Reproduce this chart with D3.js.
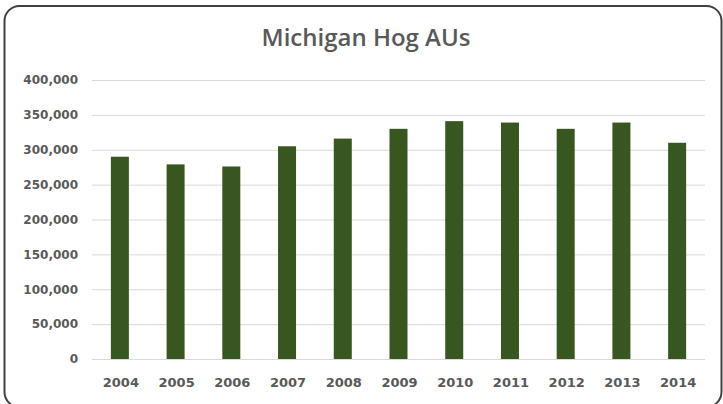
<!DOCTYPE html>
<html>
<head>
<meta charset="utf-8">
<title>Michigan Hog AUs</title>
<script src="https://cdn.jsdelivr.net/npm/d3@7/dist/d3.min.js"></script>
<style>
    html, body { margin: 0; padding: 0; background: #ffffff; }
    svg { display: block; }
</style>
</head>
<body>
<div id="chart"></div>
<script>
var years = ['2004', '2005', '2006', '2007', '2008', '2009', '2010', '2011', '2012', '2013', '2014'];
var hogAUs = [290000, 279000, 276000, 305000, 316000, 330000, 341000, 339000, 330000, 339000, 310000];
var yTicks = [0, 50000, 100000, 150000, 200000, 250000, 300000, 350000, 400000];

(function() {
    'use strict';

    var options = {
        width: 723,
        height: 404,
        margin: { top: 80, right: 18, bottom: 45, left: 92 },
        barColor: '#38561f',
        gridColor: '#d9d9d9',
        textColor: '#595959',
        title: 'Michigan Hog AUs'
    };

    var svg = d3.select('#chart')
        .append('svg')
        .attr('width', options.width)
        .attr('height', options.height);

    // cadre arrondi autour du graphique
    svg.append('rect')
        .attr('x', 4.5)
        .attr('y', 6)
        .attr('width', 717)
        .attr('height', 401)
        .attr('rx', 15)
        .style('fill', '#ffffff')
        .style('stroke', '#404040')
        .style('stroke-width', 2);

    svg.append('text')
        .attr('x', 366)
        .attr('y', 46)
        .attr('text-anchor', 'middle')
        .style('font-family', '"Open Sans", sans-serif')
        .style('font-weight', 600)
        .style('font-size', '24px')
        .style('fill', options.textColor)
        .text(options.title);

    var x = d3.scaleBand()
        .domain(years)
        .range([options.margin.left, options.width - options.margin.right])
        .paddingInner(0.677)
        .paddingOuter(0.3385);

    var y = d3.scaleLinear()
        .domain([0, 400000])
        .range([options.height - options.margin.bottom, options.margin.top]);

    /**
     * Lignes de grille horizontales + labels de l'axe Y
     */
    var yAxis = d3.axisLeft(y)
        .tickValues(yTicks)
        .tickSize(-(x.range()[1] - x.range()[0]))
        .tickPadding(14)
        .tickFormat(d3.format(','));

    var gy = svg.append('g')
        .attr('transform', 'translate(' + options.margin.left + ',0)')
        .call(yAxis);

    gy.select('.domain').remove();
    gy.selectAll('.tick line')
        .style('stroke', options.gridColor)
        .style('stroke-width', 1);
    gy.selectAll('.tick text')
        .style('font-family', '"DejaVu Sans", sans-serif')
        .style('font-weight', 'bold')
        .style('font-size', '12px')
        .style('fill', options.textColor);

    svg.append('g')
        .selectAll('rect')
        .data(hogAUs)
        .enter()
        .append('rect')
        .attr('x', function(d, i) { return x(years[i]); })
        .attr('y', function(d) { return y(d); })
        .attr('width', x.bandwidth())
        .attr('height', function(d) { return y(0) - y(d); })
        .style('fill', options.barColor);

    var xAxis = d3.axisBottom(x)
        .tickSize(0)
        .tickPadding(19);

    var gx = svg.append('g')
        .attr('transform', 'translate(1,' + y(0) + ')')
        .call(xAxis);

    gx.select('.domain').remove();
    gx.selectAll('.tick text')
        .style('font-family', '"DejaVu Sans", sans-serif')
        .style('font-weight', 'bold')
        .style('font-size', '13px')
        .style('fill', options.textColor);
})();
</script>
</body>
</html>
